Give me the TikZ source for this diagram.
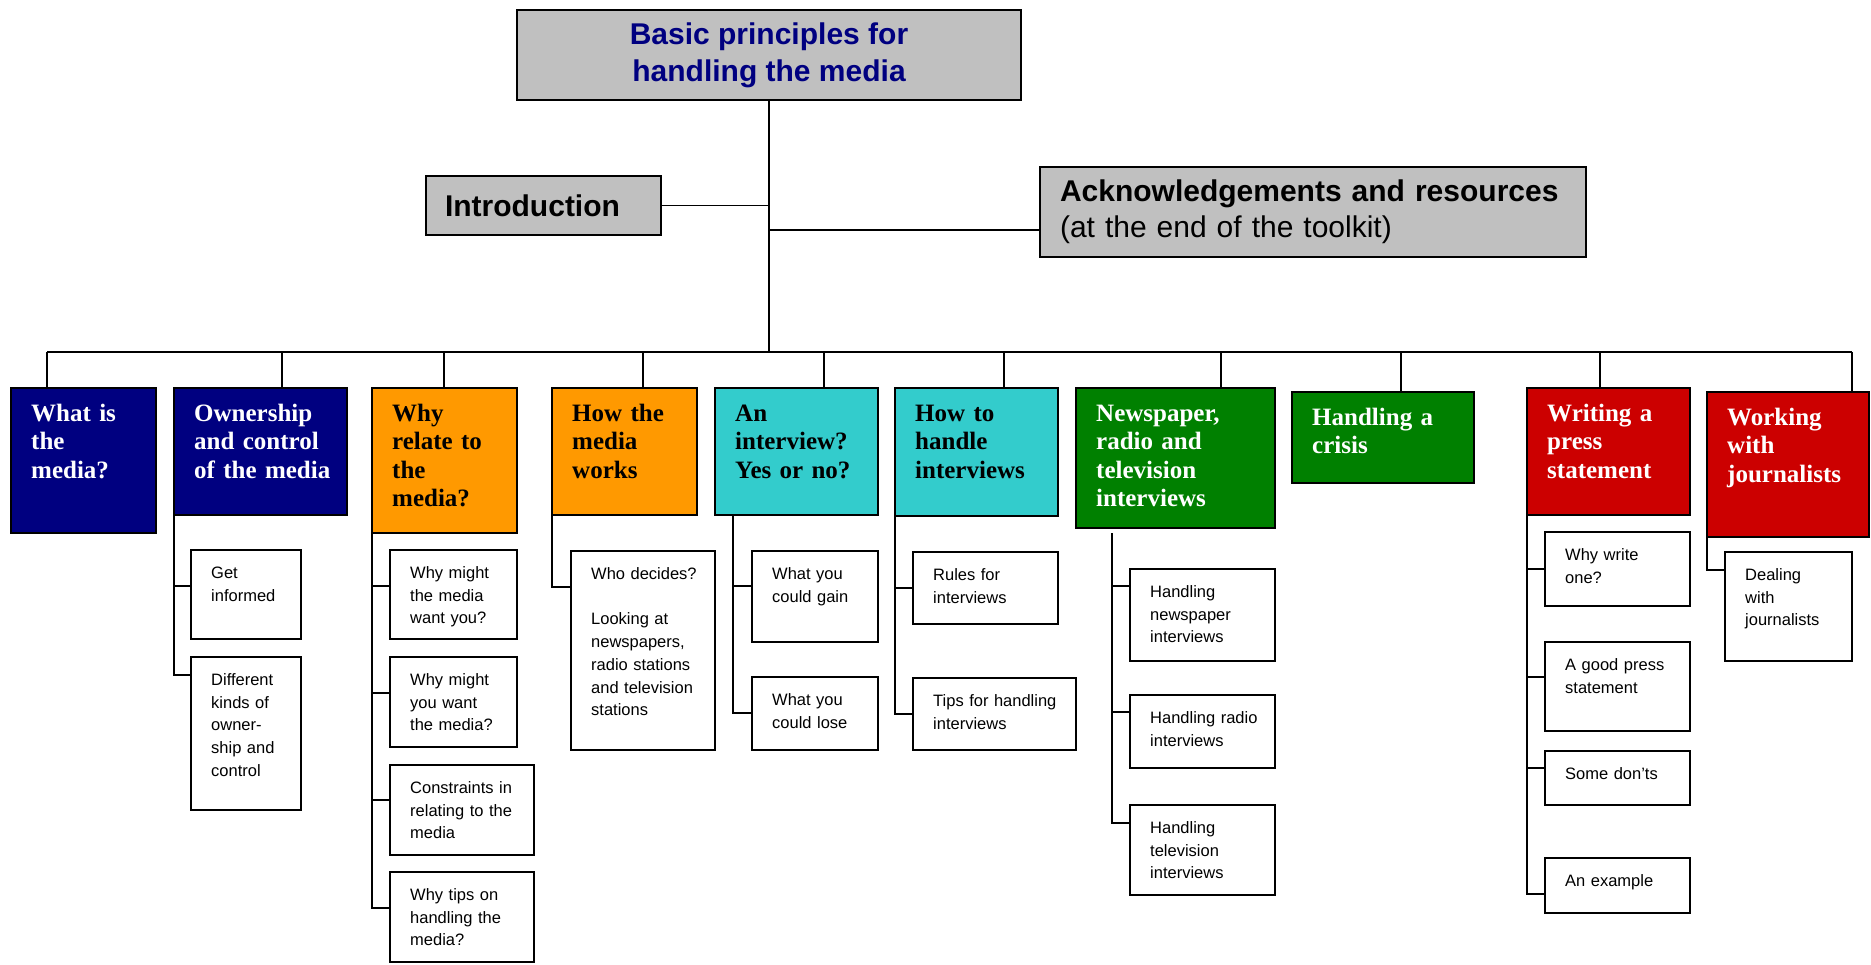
\documentclass[tikz,border=0pt]{standalone}
\usepackage{fontspec}
\setmainfont{Liberation Serif}
\setsansfont{Liberation Sans}
\usetikzlibrary{positioning}

\definecolor{mednavy}{RGB}{0,0,128}
\definecolor{medorange}{RGB}{255,153,0}
\definecolor{medteal}{RGB}{51,204,204}
\definecolor{medgreen}{RGB}{0,128,0}
\definecolor{medred}{RGB}{204,0,0}
\definecolor{medgray}{RGB}{192,192,192}

\tikzset{
    wh/.style 2 args={minimum width=#1pt, minimum height=#2pt},
    box/.style={draw, line width=2pt, anchor=north west, inner sep=0pt, outer sep=0pt},
    topbox/.style={box, fill=medgray, font=\sffamily\bfseries\fontsize{30}{37}\selectfont},
    chapbox/.style={box},
    chaplabel/.style={anchor=base west, xshift=20pt, yshift=-33pt, inner sep=0pt, align=left, text width=180pt,
        font=\rmfamily\bfseries\fontsize{25}{28.5}\selectfont},
    secbox/.style={box, fill=white},
    seclabel/.style={anchor=base west, xshift=20pt, yshift=-28.5pt, inner sep=0pt, align=left, text width=170pt,
        font=\sffamily\fontsize{16.5}{22.7}\selectfont},
    link/.style={line width=1.8pt}
}

\begin{document}
\begin{tikzpicture}[x=1pt, y=-1pt]
        \useasboundingbox (0,0) rectangle (1871,965);

        % Top
        \node[topbox, text=mednavy, align=center, wh={504}{90}] (title) at (517,10) {Basic principles for\\handling the media};
        \node[topbox, wh={235}{59}, text width=197pt, inner xsep=19pt, align=left] (intro) at (426,176) {Introduction};
        \node[topbox, wh={546}{90}, text width=506pt, inner xsep=20pt, align=left,
            font=\sffamily\fontsize{30}{36}\selectfont] (ack) at (1040,167)
            {\textbf{Acknowledgements and resources}\\(at the end of the toolkit)};

        % Chapters
        \node[chapbox, fill=mednavy, wh={145}{145}, label={[chaplabel, text=white]north west:{What is\\the\\media?}}] (what) at (11,388) {};
        \node[chapbox, fill=mednavy, wh={173}{127}, label={[chaplabel, text=white]north west:{Ownership\\and control\\of the media}}] (own) at (174,388) {};
        \node[chapbox, fill=medorange, wh={145}{145}, label={[chaplabel]north west:{Why\\relate to\\the\\media?}}] (why) at (372,388) {};
        \node[chapbox, fill=medorange, wh={145}{127}, label={[chaplabel]north west:{How the\\media\\works}}] (how) at (552,388) {};
        \node[chapbox, fill=medteal, wh={163}{127}, label={[chaplabel]north west:{An\\interview?\\Yes or no?}}] (interview) at (715,388) {};
        \node[chapbox, fill=medteal, wh={163}{128}, label={[chaplabel]north west:{How to\\handle\\interviews}}] (handle) at (895,388) {};
        \node[chapbox, fill=medgreen, wh={199}{140}, label={[chaplabel, text=white]north west:{Newspaper,\\radio and\\television\\interviews}}] (news) at (1076,388) {};
        \node[chapbox, fill=medgreen, wh={182}{91}, label={[chaplabel, text=white]north west:{Handling a\\crisis}}] (crisis) at (1292,392) {};
        \node[chapbox, fill=medred, wh={163}{127}, label={[chaplabel, text=white]north west:{Writing a\\press\\statement}}] (press) at (1527,388) {};
        \node[chapbox, fill=medred, wh={162}{145}, label={[chaplabel, text=white]north west:{Working\\with\\journalists}}] (journ) at (1707,392) {};

        % Sections
        \node[secbox, wh={110}{89}, label={[seclabel]north west:{Get\\informed}}] (informed) at (191,550) {};
        \node[secbox, wh={110}{153}, label={[seclabel]north west:{Different\\kinds of\\owner-\\ship and\\control}}] (kinds) at (191,657) {};
        \node[secbox, wh={127}{89}, label={[seclabel]north west:{Why might\\the media\\want you?}}] (mwant) at (390,550) {};
        \node[secbox, wh={127}{90}, label={[seclabel]north west:{Why might\\you want\\the media?}}] (ywant) at (390,657) {};
        \node[secbox, wh={144}{90}, label={[seclabel]north west:{Constraints in\\relating to the\\media}}] (constr) at (390,765) {};
        \node[secbox, wh={144}{90}, label={[seclabel]north west:{Why tips on\\handling the\\media?}}] (tips) at (390,872) {};
        \node[secbox, wh={144}{199}, label={[seclabel]north west:{Who decides?\\[22.7pt]Looking at\\newspapers,\\radio stations\\and television\\stations}}] (who) at (571,551) {};
        \node[secbox, wh={126}{91}, label={[seclabel]north west:{What you\\could gain}}] (gain) at (752,551) {};
        \node[secbox, wh={126}{73}, label={[seclabel]north west:{What you\\could lose}}] (lose) at (752,677) {};
        \node[secbox, wh={145}{72}, label={[seclabel]north west:{Rules for\\interviews}}] (rules) at (913,552) {};
        \node[secbox, wh={163}{72}, label={[seclabel]north west:{Tips for handling\\interviews}}] (tipsint) at (913,678) {};
        \node[secbox, wh={145}{92}, label={[seclabel]north west:{Handling\\newspaper\\interviews}}] (hnews) at (1130,569) {};
        \node[secbox, wh={145}{73}, label={[seclabel]north west:{Handling radio\\interviews}}] (hradio) at (1130,695) {};
        \node[secbox, wh={145}{90}, label={[seclabel]north west:{Handling\\television\\interviews}}] (htv) at (1130,805) {};
        \node[secbox, wh={145}{74}, label={[seclabel]north west:{Why write\\one?}}] (whyone) at (1545,532) {};
        \node[secbox, wh={145}{89}, label={[seclabel]north west:{A good press\\statement}}] (good) at (1545,642) {};
        \node[secbox, wh={145}{54}, label={[seclabel]north west:{Some don’ts}}] (donts) at (1545,751) {};
        \node[secbox, wh={145}{55}, label={[seclabel]north west:{An example}}] (example) at (1545,858) {};
        \node[secbox, wh={127}{109}, label={[seclabel]north west:{Dealing\\with\\journalists}}] (dealing) at (1725,552) {};

        % Trunk and bus
        \coordinate (b1) at (47,352);
        \coordinate (b2) at (282,352);
        \coordinate (b3) at (444,352);
        \coordinate (b4) at (643,352);
        \coordinate (b5) at (824,352);
        \coordinate (b6) at (1004,352);
        \coordinate (b7) at (1221,352);
        \coordinate (b8) at (1401,352);
        \coordinate (b9) at (1600,352);
        \coordinate (b10) at (1852,352);
        \coordinate (ackin) at ([yshift=-18pt]ack.west);
        \draw[link] (title.south) -- (title.south |- b1);
        \draw[link] (intro.east) -- (intro.east -| title.south);
        \draw[link] (ackin) -- (ackin -| title.south);
        \draw[link] (b1) -- (b10);
        \draw[link] (b1) -- (b1 |- what.north);
        \draw[link] (b2) -- (b2 |- own.north);
        \draw[link] (b3) -- (b3 |- why.north);
        \draw[link] (b4) -- (b4 |- how.north);
        \draw[link] (b5) -- (b5 |- interview.north);
        \draw[link] (b6) -- (b6 |- handle.north);
        \draw[link] (b7) -- (b7 |- news.north);
        \draw[link] (b8) -- (b8 |- crisis.north);
        \draw[link] (b9) -- (b9 |- press.north);
        \draw[link] (b10) -- (b10 |- journ.north);

        % Branches
        \draw[link] (own.south west) |- ([yshift=-36pt]informed.north west);
        \draw[link] (own.south west) |- ([yshift=-18pt]kinds.north west);
        \draw[link] (why.south west) |- ([yshift=-36pt]mwant.north west);
        \draw[link] (why.south west) |- ([yshift=-36pt]ywant.north west);
        \draw[link] (why.south west) |- ([yshift=-35pt]constr.north west);
        \draw[link] (why.south west) |- ([yshift=-36pt]tips.north west);
        \draw[link] (how.south west) |- ([yshift=-36pt]who.north west);
        \draw[link] ([xshift=18pt]interview.south west) |- ([yshift=-35pt]gain.north west);
        \draw[link] ([xshift=18pt]interview.south west) |- ([yshift=-36pt]lose.north west);
        \draw[link] (handle.south west) |- ([yshift=-36pt]rules.north west);
        \draw[link] (handle.south west) |- ([yshift=-36pt]tipsint.north west);
        \draw[link] ([xshift=36pt,yshift=-5pt]news.south west) |- ([yshift=-17pt]hnews.north west);
        \draw[link] ([xshift=36pt,yshift=-5pt]news.south west) |- ([yshift=-17pt]hradio.north west);
        \draw[link] ([xshift=36pt,yshift=-5pt]news.south west) |- ([yshift=-18pt]htv.north west);
        \draw[link] (press.south west) |- ([yshift=-37pt]whyone.north west);
        \draw[link] (press.south west) |- ([yshift=-35pt]good.north west);
        \draw[link] (press.south west) |- ([yshift=-17pt]donts.north west);
        \draw[link] (press.south west) |- ([yshift=-36pt]example.north west);
        \draw[link] (journ.south west) |- ([yshift=-18pt]dealing.north west);
    \end{tikzpicture}
\end{document}
